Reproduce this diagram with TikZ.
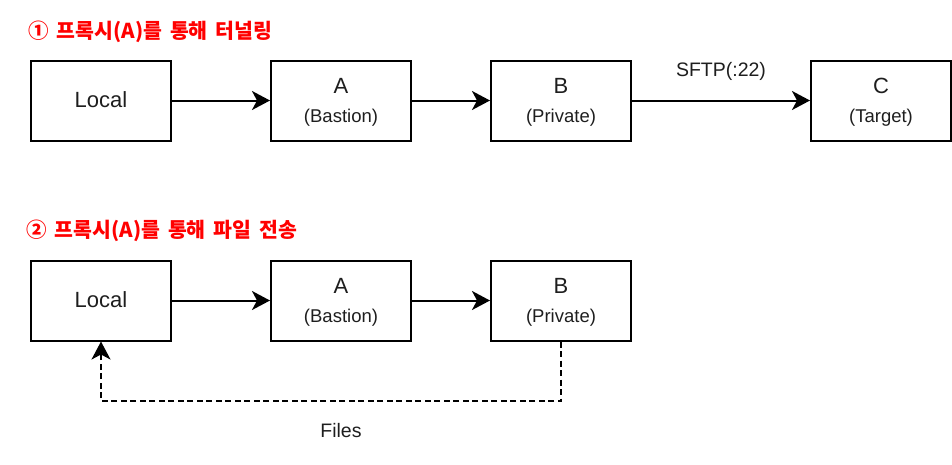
\documentclass[tikz,border=0pt]{standalone}
\usepackage{fontspec}
\setmainfont{Liberation Sans}
\newfontfamily\kr{Noto Sans CJK KR}
\usetikzlibrary{arrows.meta}
\definecolor{titlered}{RGB}{255,0,0}
\definecolor{txtgray}{RGB}{30,30,30}
\newcommand{\tsp}{\hspace{8pt}}
\tikzset{
  box/.style={draw, line width=2pt, minimum width=140pt, minimum height=80pt, inner sep=0pt},
  maintxt/.style={inner sep=0pt, font=\fontsize{22}{24}\selectfont, text=txtgray},
  subtxt/.style={inner sep=0pt, font=\fontsize{18.5}{20}\selectfont, text=txtgray},
  edgetxt/.style={inner sep=0pt, font=\fontsize{19.5}{22}\selectfont, text=txtgray},
  ttl/.style={inner sep=0pt, anchor=west, text=titlered, font=\kr\bfseries\fontsize{20.5}{22}\selectfont},
  conn/.style={line width=2pt, -{Stealth[length=18pt, width=19pt, inset=5pt]}},
  dconn/.style={conn, dash pattern=on 6pt off 3.5pt}
}
\begin{document}
\begin{tikzpicture}[x=1pt,y=-1pt]
\useasboundingbox (0,0) rectangle (952,464);
% titles
\node[ttl] (t1) at (28,32) {①\tsp 프록시(A)를\tsp 통해\tsp 터널링};
\node[ttl] (t2) at (26,231) {②\tsp 프록시(A)를\tsp 통해\tsp 파일\tsp 전송};
% row 1
\node[box] (l1) at (101,100.5) {};
\node[box] (a1) at (341,100.5) {};
\node[box] (b1) at (561,100.5) {};
\node[box] (c1) at (881,100.5) {};
\node[maintxt] (l1t) at (101,100) {Local};
\node[maintxt] (a1t) at (341,86) {A};
\node[subtxt] (a1s) at (341,117.5) {(Bastion)};
\node[maintxt] (b1t) at (561,86) {B};
\node[subtxt] (b1s) at (561,117.5) {(Private)};
\node[maintxt] (c1t) at (881,86) {C};
\node[subtxt] (c1s) at (881,117.5) {(Target)};
\draw[conn] (l1) -- (a1);
\draw[conn] (a1) -- (b1);
\draw[conn] (b1) -- (c1);
\node[edgetxt] (sftp) at (721,71) {SFTP(:22)};
% row 2
\node[box] (l2) at (101,300.5) {};
\node[box] (a2) at (341,300.5) {};
\node[box] (b2) at (561,300.5) {};
\node[maintxt] (l2t) at (101,300) {Local};
\node[maintxt] (a2t) at (341,286) {A};
\node[subtxt] (a2s) at (341,317.5) {(Bastion)};
\node[maintxt] (b2t) at (561,286) {B};
\node[subtxt] (b2s) at (561,317.5) {(Private)};
\draw[conn] (l2) -- (a2);
\draw[conn] (a2) -- (b2);
\coordinate (d1) at (561,401);
\coordinate (d2) at (101,401);
\draw[dconn] (b2.south) -- (d1) -- (d2) -- (l2.south);
\node[edgetxt] (files) at (341,430.5) {Files};
\end{tikzpicture}
\end{document}
